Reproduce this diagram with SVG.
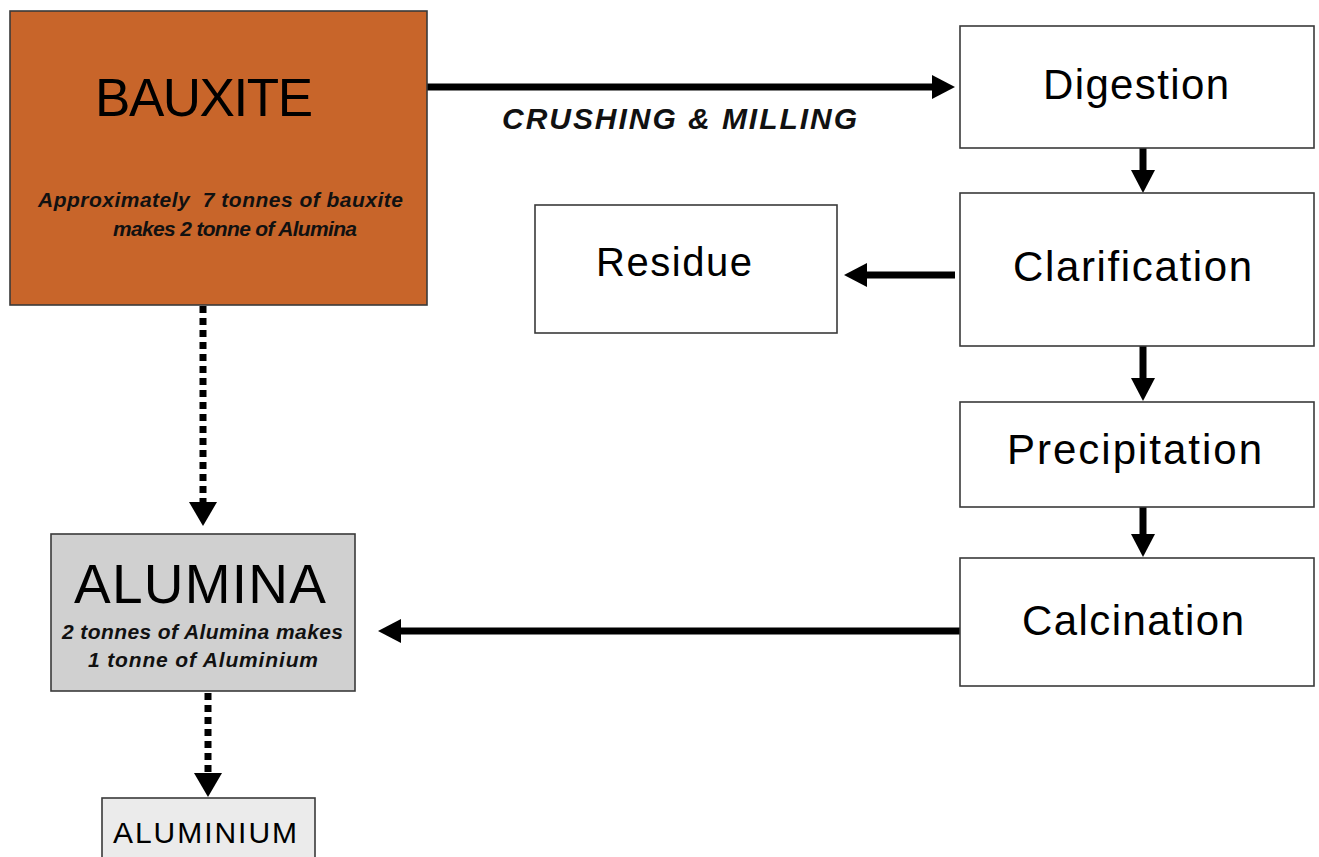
<svg xmlns="http://www.w3.org/2000/svg" width="1319" height="857" viewBox="0 0 1319 857">
<style>
.box{stroke:#3a3a3a;stroke-width:1.6}
.lbl{font-family:"Liberation Sans",Arial,sans-serif;fill:#000;text-anchor:start}
.it{font-family:"Liberation Sans",Arial,sans-serif;font-style:italic;font-weight:bold;fill:#111}
.solid{stroke:#000;stroke-width:7;fill:none}
.dot{stroke:#000;stroke-width:7;fill:none;stroke-dasharray:7 5}
</style>
<defs>
<marker id="head" markerUnits="userSpaceOnUse" markerWidth="23" markerHeight="24" refX="0" refY="12" orient="auto" viewBox="0 0 23 24">
<path d="M0,0 L23,12 L0,24 z" fill="#000"/>
</marker>
<marker id="headL" markerUnits="userSpaceOnUse" markerWidth="24" markerHeight="28" refX="0" refY="14" orient="auto" viewBox="0 0 24 28">
<path d="M0,0 L24,14 L0,28 z" fill="#000"/>
</marker>
</defs>
<rect width="1319" height="857" fill="#fff"/>
<g id="connectors">
<line class="solid" x1="427" y1="87" x2="932" y2="87" marker-end="url(#head)"/>
<line class="solid" x1="1143" y1="148" x2="1143" y2="170" marker-end="url(#head)"/>
<line class="solid" x1="955" y1="275" x2="867" y2="275" marker-end="url(#head)"/>
<line class="solid" x1="1143" y1="346" x2="1143" y2="378" marker-end="url(#head)"/>
<line class="solid" x1="1143" y1="507" x2="1143" y2="534" marker-end="url(#head)"/>
<line class="solid" x1="960" y1="631" x2="401" y2="631" marker-end="url(#head)"/>
<line class="dot" x1="203" y1="306" x2="203" y2="502" marker-end="url(#headL)"/>
<line class="dot" x1="208" y1="693" x2="208" y2="773" marker-end="url(#headL)"/>
<text class="it" x="502" y="129" font-size="30" textLength="355">CRUSHING &amp; MILLING</text>
</g>
<g id="bauxite">
<rect class="box" x="10" y="11" width="417" height="294" fill="#C8652A"/>
<text class="lbl" x="95" y="116" font-size="53" textLength="218">BAUXITE</text>
<text class="it" x="38" y="207" font-size="21" textLength="365" xml:space="preserve">Approximately  7 tonnes of bauxite</text>
<text class="it" x="113" y="236" font-size="21" textLength="244">makes 2 tonne of Alumina</text>
</g>
<g id="digestion">
<rect class="box" x="960" y="26" width="354" height="122" fill="#fff"/>
<text class="lbl" x="1043" y="99" font-size="42" textLength="186">Digestion</text>
</g>
<g id="clarification">
<rect class="box" x="960" y="193" width="354" height="153" fill="#fff"/>
<text class="lbl" x="1013" y="281" font-size="42" textLength="239">Clarification</text>
</g>
<g id="residue">
<rect class="box" x="535" y="205" width="302" height="128" fill="#fff"/>
<text class="lbl" x="596" y="276" font-size="40" textLength="156">Residue</text>
</g>
<g id="precipitation">
<rect class="box" x="960" y="402" width="354" height="105" fill="#fff"/>
<text class="lbl" x="1007" y="464" font-size="42" textLength="255">Precipitation</text>
</g>
<g id="calcination">
<rect class="box" x="960" y="558" width="354" height="128" fill="#fff"/>
<text class="lbl" x="1022" y="635" font-size="42" textLength="222">Calcination</text>
</g>
<g id="alumina">
<rect class="box" x="51" y="534" width="304" height="157" fill="#D0D0D0"/>
<text class="lbl" x="74" y="603" font-size="55" textLength="252">ALUMINA</text>
<text class="it" x="62" y="639" font-size="21" textLength="281">2 tonnes of Alumina makes</text>
<text class="it" x="88" y="667" font-size="21" textLength="230">1 tonne of Aluminium</text>
</g>
<g id="aluminium">
<rect class="box" x="102" y="798" width="213" height="70" fill="#EBEBEB"/>
<text class="lbl" x="113" y="843" font-size="30" textLength="184">ALUMINIUM</text>
</g>
</svg>
